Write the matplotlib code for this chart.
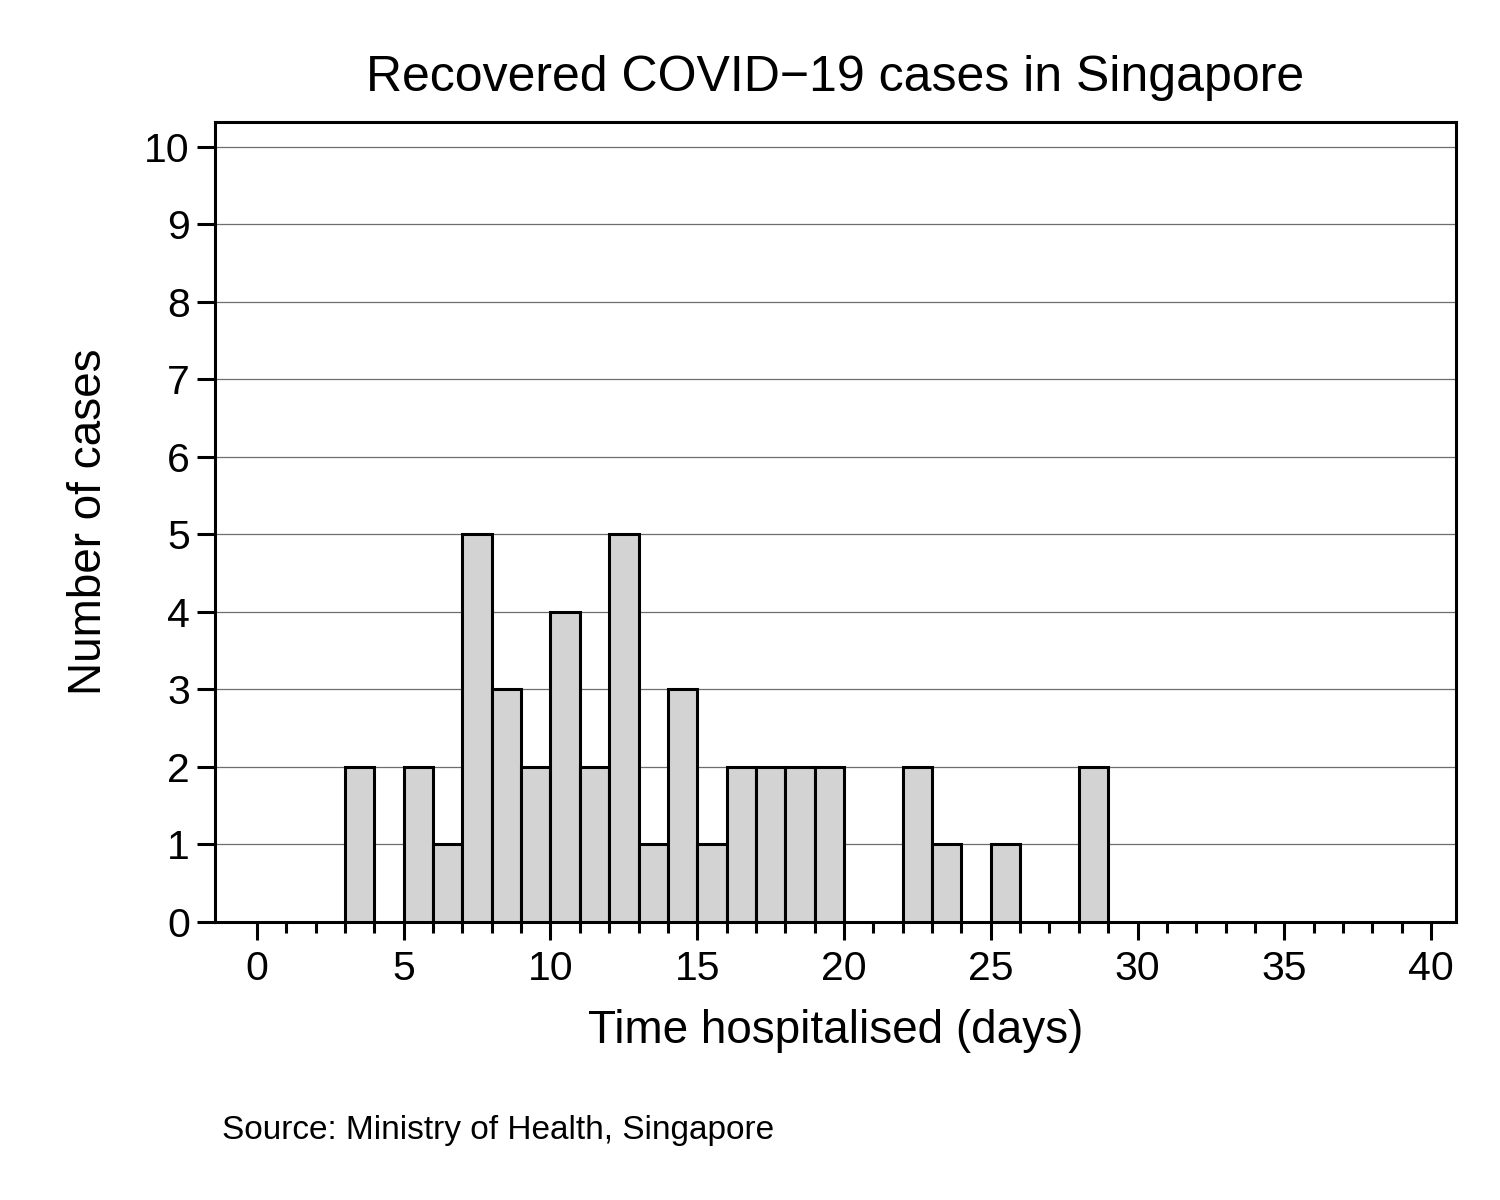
import numpy as np
import matplotlib.pyplot as plt
from matplotlib.ticker import FixedLocator

# Daten: Tage im Krankenhaus (linke Klassengrenze) und Anzahl Fälle
days = [3, 5, 6, 7, 8, 9, 10, 11, 12, 13, 14, 15, 16, 17, 18, 19, 22, 23, 25, 28]
counts = [2, 2, 1, 5, 3, 2, 4, 2, 5, 1, 3, 1, 2, 2, 2, 2, 2, 1, 1, 2]
x_major = [0, 5, 10, 15, 20, 25, 30, 35, 40]
y_ticks = list(range(0, 11))

plt.rcParams['font.family'] = ['Liberation Sans', 'DejaVu Sans']

fig = plt.figure(figsize=(15, 12), dpi=100)
ax = fig.add_axes([0.1433, 0.2317, 0.9707 - 0.1433, 0.8983 - 0.2317])

# Balken
ax.bar(days, counts, width=1, align='edge', color='#d3d3d3',
       edgecolor='black', linewidth=2.2, zorder=3)

# Gitterlinien
for y in y_ticks:
    ax.axhline(y, color='#6e6e6e', linewidth=0.9, zorder=1)

ax.set_xlim(-1.43, 40.85)
ax.set_ylim(0, 10.32)
ax.xaxis.set_major_locator(FixedLocator(x_major))
ax.xaxis.set_minor_locator(FixedLocator([i for i in range(0, 41) if i % 5 != 0]))
ax.yaxis.set_major_locator(FixedLocator(y_ticks))

ax.tick_params(axis='both', which='major', direction='out', length=13,
               width=2.2, labelsize=29.5, pad=5)
ax.tick_params(axis='x', which='major', pad=7)
ax.tick_params(axis='x', which='minor', direction='out', length=8, width=2.2)

for s in ax.spines.values():
    s.set_linewidth(2.2)

ax.set_title('Recovered COVID\u221219 cases in Singapore', fontsize=36, pad=22)
ax.set_xlabel('Time hospitalised (days)', fontsize=33, labelpad=15)
ax.set_ylabel('Number of cases', fontsize=33, labelpad=24)

fig.text(0.148, 0.058, 'Source: Ministry of Health, Singapore', fontsize=24,
         ha='left', va='center')

plt.savefig('out.png', dpi=100)
plt.close()
